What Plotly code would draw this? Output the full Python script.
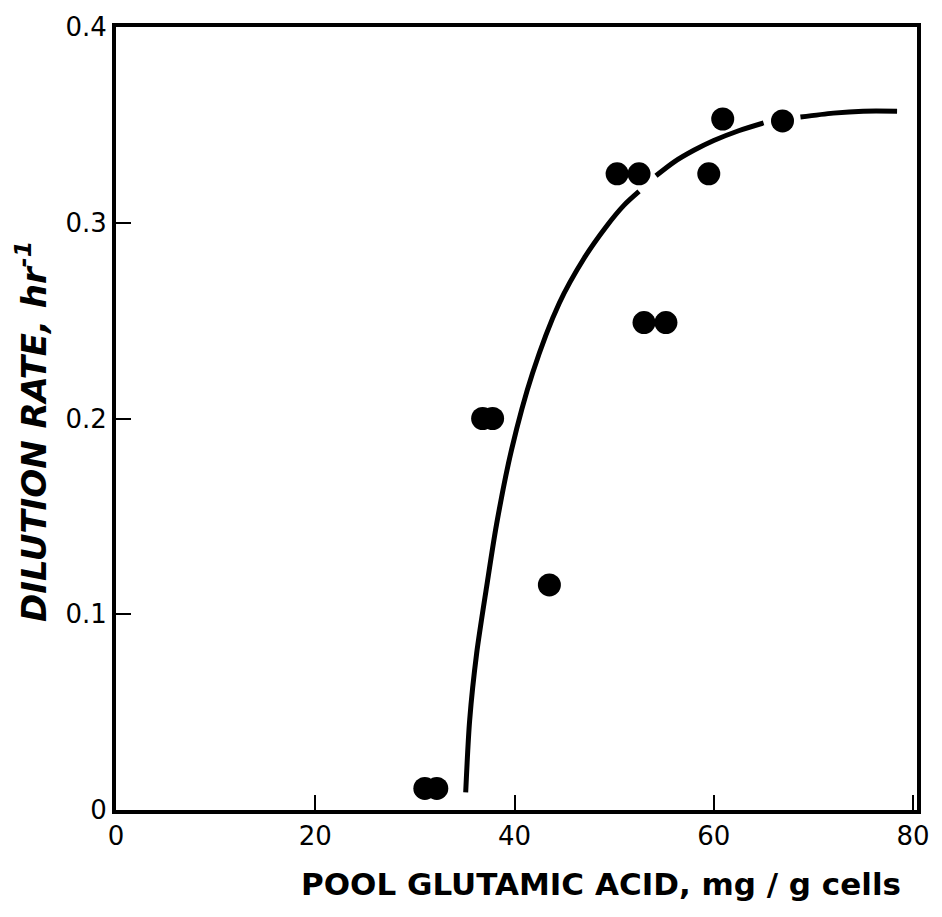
import plotly.graph_objects as go

# Data points (pool glutamic acid, mg/g cells ; dilution rate, 1/hr)
pool_glu = [31.0, 32.2, 36.8, 37.8, 43.5, 50.3, 52.5, 53.0, 55.2, 59.5, 60.9, 66.9]
dil_rate = [0.011, 0.011, 0.200, 0.200, 0.115, 0.325, 0.325, 0.249, 0.249, 0.325, 0.353, 0.352]

# Hand-drawn curve (None = break in the drawn line)
curve_x = [35.1, 35.5, 36.2, 37.2, 38.2, 39.7, 41.8, 44.5, 47.0, 49.2, 51.0, 52.5, None,
           54.2, 56.0, 58.0, 60.0, 62.5, 65.0, None,
           68.7, 72.0, 75.0, 78.4]
curve_y = [0.009, 0.046, 0.080, 0.114, 0.146, 0.184, 0.223, 0.259, 0.282, 0.298, 0.309, 0.316, None,
           0.324, 0.331, 0.337, 0.342, 0.347, 0.351, None,
           0.354, 0.356, 0.357, 0.357]

x_ticks = [0, 20, 40, 60, 80]
x_ticklabels = ["0", "20", "40", "60", "80"]
y_ticks = [0, 0.1, 0.2, 0.3, 0.4]
y_ticklabels = ["0", "0.1", "0.2", "0.3", "0.4"]

fig = go.Figure()
fig.add_trace(go.Scatter(x=curve_x, y=curve_y, mode="lines",
                         line=dict(color="black", width=5, shape="spline", smoothing=0.8),
                         connectgaps=False, showlegend=False, hoverinfo="skip"))
fig.add_trace(go.Scatter(x=pool_glu, y=dil_rate, mode="markers",
                         marker=dict(color="black", size=23, line=dict(width=0)),
                         showlegend=False))

tickfont = dict(family="DejaVu Sans, sans-serif", size=26, color="black")
fig.update_xaxes(range=[0, 80.4], tickvals=x_ticks, ticktext=x_ticklabels,
                 showline=True, linecolor="black", linewidth=4, mirror=True,
                 ticks="inside", ticklen=15, tickwidth=2, tickcolor="black",
                 showgrid=False, zeroline=False, tickfont=tickfont)
fig.update_yaxes(range=[0, 0.4], tickvals=y_ticks, ticktext=y_ticklabels,
                 showline=True, linecolor="black", linewidth=4, mirror=True,
                 ticks="inside", ticklen=15, tickwidth=2, tickcolor="black",
                 showgrid=False, zeroline=False, tickfont=tickfont)

fig.update_layout(
    width=942, height=917,
    margin=dict(l=116, r=24, t=21, b=107),
    plot_bgcolor="white", paper_bgcolor="white",
    annotations=[
        dict(text="<b>POOL GLUTAMIC ACID, mg / g cells</b>", xref="paper", yref="paper",
             x=0.606, y=-0.095, xanchor="center", yanchor="middle", showarrow=False,
             font=dict(family="DejaVu Sans, sans-serif", size=31, color="black")),
        dict(text="<b><i>DILUTION RATE, hr<sup>-1</sup></i></b>", xref="paper", yref="paper",
             x=-0.106, y=0.483, xanchor="center", yanchor="middle", showarrow=False,
             textangle=-90,
             font=dict(family="DejaVu Sans, sans-serif", size=34, color="black")),
    ],
)

fig.write_html("out.html")
